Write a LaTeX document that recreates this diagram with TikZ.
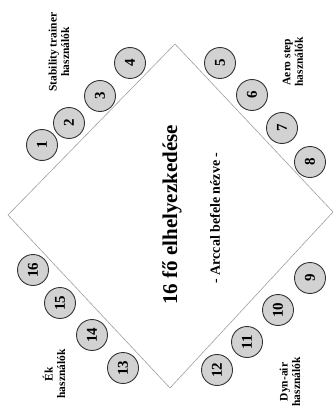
\documentclass[tikz,border=0pt]{standalone}
\usepackage{fontspec}
\setmainfont{Liberation Serif}
\usetikzlibrary{positioning}

\begin{document}
\begin{tikzpicture}[
  x=1pt, y=-1pt,
  seat/.style={
    circle,
    draw=black!80,
    line width=0.9pt,
    fill=gray!35,
    minimum size=31pt,
    inner sep=0pt,
    rotate=90,
    font=\fontsize{15}{15}\selectfont\bfseries
  },
  group/.style={
    align=center,
    rotate=90,
    inner sep=0pt,
    font=\fontsize{11.5}{12.5}\selectfont\bfseries
  },
  edge/.style={draw=gray!75, line width=0.6pt},
  title/.style={rotate=90, font=\fontsize{21}{21}\selectfont\bfseries},
  subtitle/.style={rotate=90, font=\fontsize{14}{14}\selectfont\bfseries}
]
\useasboundingbox (0,0) rectangle (335,414);

% =========================
% Room outline
% =========================
\coordinate (ntop) at (175,44);
\coordinate (nright) at (333,212);
\coordinate (nbottom) at (170,388);
\coordinate (nleft) at (8,215);

\draw[edge] (ntop) -- (nright) -- (nbottom) -- (nleft) -- cycle;

% =========================
% Titles
% =========================
\node[title] (title) at (172,215) {16 fő elhelyezkedése};
\node[subtitle] (subtitle) at (215,218) {- Arccal befele nézve -};

% =========================
% Stability trainer
% =========================
\node[seat] (s1) at (42,145) {1};
\node[seat] (s2) at (69,123) {2};
\node[seat] (s3) at (100,96) {3};
\node[seat] (s4) at (130,63) {4};
\node[group] (gstab) at (59,52) {Stability trainer\\használók};

% =========================
% Aero step
% =========================
\node[seat] (s5) at (220,63) {5};
\node[seat] (s6) at (252,95) {6};
\node[seat] (s7) at (282,128) {7};
\node[seat] (s8) at (310,162) {8};
\node[group] (gaero) at (293,62) {Aero step\\használók};

% =========================
% Dyn-air
% =========================
\node[seat] (s9) at (310,278) {9};
\node[seat] (s10) at (278,310) {10};
\node[seat] (s11) at (247,342) {11};
\node[seat] (s12) at (217,370) {12};
\node[group] (gdyn) at (290,382) {Dyn-air\\használók};

% =========================
% Ek
% =========================
\node[seat] (s13) at (123,368) {13};
\node[seat] (s14) at (92,335) {14};
\node[seat] (s15) at (60,303) {15};
\node[seat] (s16) at (33,270) {16};
\node[group] (gek) at (54,374) {Ék\\használók};

\end{tikzpicture}
\end{document}
